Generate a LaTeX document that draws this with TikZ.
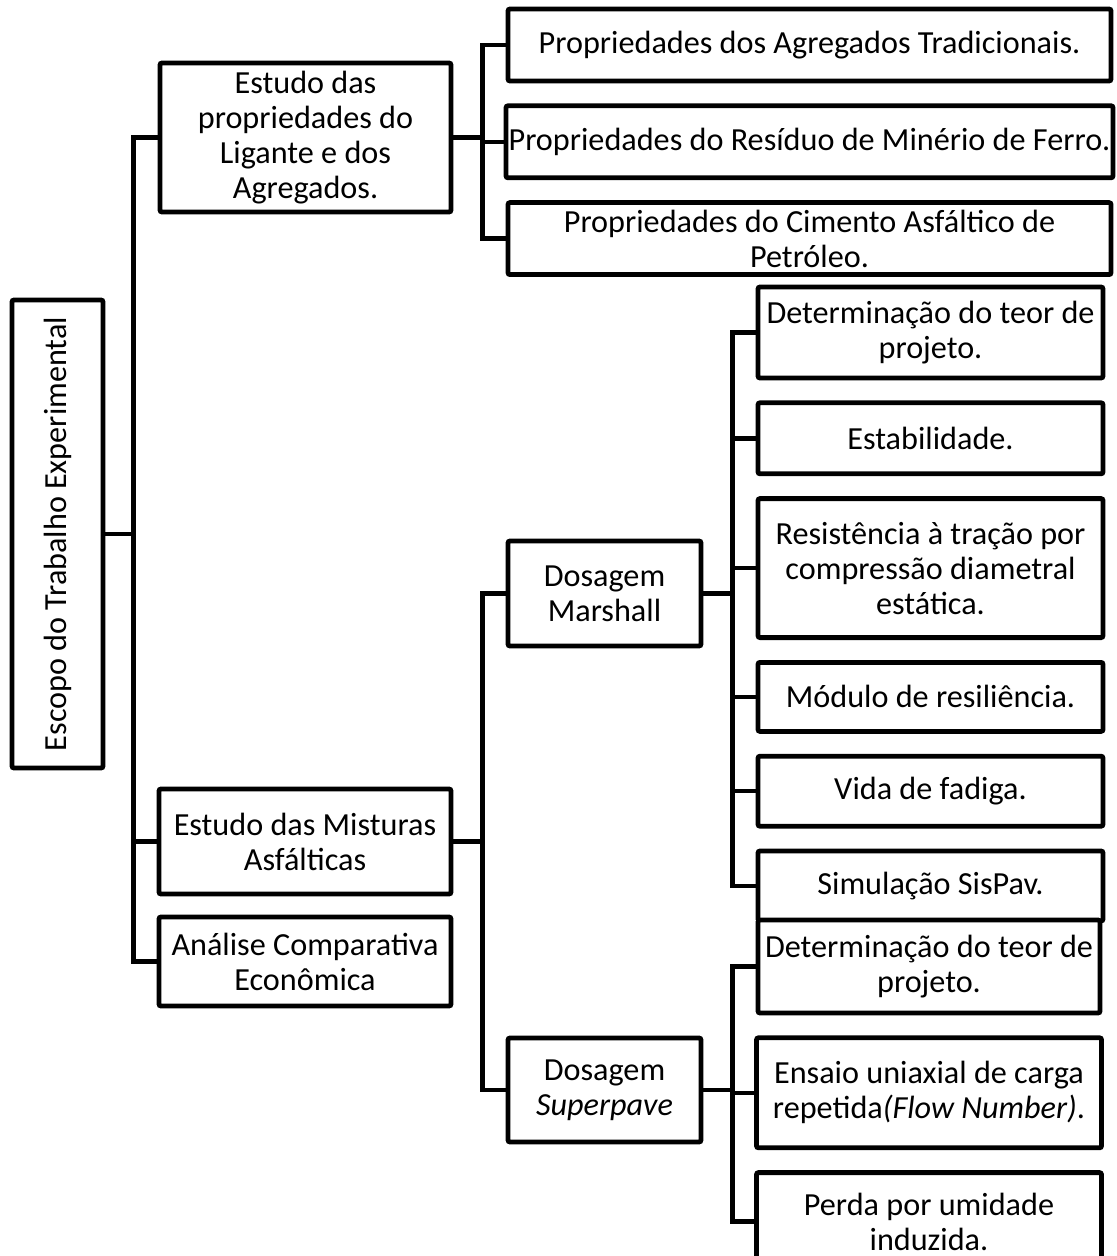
\documentclass[tikz,border=0pt]{standalone}
\usepackage{fontspec}
\setmainfont{Carlito}
\usepackage{tikz}
\usetikzlibrary{positioning,calc}

\begin{document}
\begin{tikzpicture}[x=0.5pt, y=-0.5pt, node distance=10pt,
  box/.style={draw=black, line width=2.4pt, rounded corners=1pt, fill=white,
    align=center, inner sep=0.5pt, font=\fontsize{16.1}{17.5}\selectfont},
  prop/.style={box, minimum width=301.5pt, minimum height=36pt},
  test/.style={box, minimum width=172.5pt},
  link/.style={line width=2.2pt, draw=black}]
\useasboundingbox (0,0) rectangle (1117,1256);
\node[box, rotate=90, minimum width=234pt, minimum height=45.5pt]
  (escopo) at (57.5,534) {Escopo do Trabalho Experimental};
\node[box, minimum width=145.5pt, minimum height=74.5pt] (ligante) at (305.5,137.5)
  {Estudo das\\ propriedades do\\ Ligante e dos\\ Agregados.};
\node[box, minimum width=146pt, minimum height=52.5pt] (misturas) at (305,841.5)
  {Estudo das Misturas\\ Asfálticas};
\node[box, minimum width=146pt, minimum height=44.5pt] (analise) at (305,961.5)
  {Análise Comparativa\\ Econômica};
\node[prop] (agreg) at (809.5,45) {Propriedades dos Agregados Tradicionais.};
\node[prop, below=of agreg, minimum width=303.5pt] (residuo)
  {Propriedades do Resíduo de Minério de Ferro.};
\node[prop, below=of residuo] (cimento)
  {Propriedades do Cimento Asfáltico de\\ Petróleo.};
\node[box, minimum width=96.5pt, minimum height=52.5pt] (marshall) at (604.5,593.5)
  {Dosagem\\ Marshall};
\node[box, minimum width=96.5pt, minimum height=52pt] (superpave) at (604.5,1090)
  {Dosagem\\ \textit{Superpave}};
\node[test, minimum height=45.5pt] (mteor) at (930.5,332.5)
  {Determinação do teor de\\ projeto.};
\node[test, below=of mteor, minimum height=35.5pt] (estab) {Estabilidade.};
\node[test, below=of estab, minimum height=69.5pt] (tracao)
  {Resistência à tração por\\ compressão diametral\\ estática.};
\node[test, below=of tracao, minimum height=34.5pt] (modulo) {Módulo de resiliência.};
\node[test, below=of modulo, minimum height=35pt] (fadiga) {Vida de fadiga.};
\node[test, below=of fadiga, minimum height=35pt] (sispav) {Simulação SisPav.};
\node[test, minimum width=171pt, minimum height=46.5pt] (steor) at (929,966.5)
  {Determinação do teor de\\ projeto.};
\node[test, below=of steor, minimum height=55pt] (flow)
  {Ensaio uniaxial de carga\\ repetida\textit{(Flow Number)}.};
\node[test, below=of flow, minimum height=49pt] (umidade)
  {Perda por umidade\\ induzida.};
\draw[link] (escopo.south) -- ++(28,0) |- (ligante.west);
\draw[link] (escopo.south) -- ++(28,0) |- (misturas.west);
\draw[link] (escopo.south) -- ++(28,0) |- (analise.west);
\draw[link] (ligante.east) -- ++(29,0) |- (agreg.west);
\draw[link] (ligante.east) -- ++(29,0) |- (residuo.west);
\draw[link] (ligante.east) -- ++(29,0) |- (cimento.west);
\draw[link] (misturas.east) -- ++(29,0) |- (marshall.west);
\draw[link] (misturas.east) -- ++(29,0) |- (superpave.west);
\draw[link] (marshall.east) -- ++(29,0) |- (mteor.west);
\draw[link] (marshall.east) -- ++(29,0) |- (estab.west);
\draw[link] (marshall.east) -- ++(29,0) |- (tracao.west);
\draw[link] (marshall.east) -- ++(29,0) |- (modulo.west);
\draw[link] (marshall.east) -- ++(29,0) |- (fadiga.west);
\draw[link] (marshall.east) -- ++(29,0) |- (sispav.west);
\draw[link] (superpave.east) -- ++(29,0) |- (steor.west);
\draw[link] (superpave.east) -- ++(29,0) |- (flow.west);
\draw[link] (superpave.east) -- ++(29,0) |- (umidade.west);
\end{tikzpicture}
\end{document}
